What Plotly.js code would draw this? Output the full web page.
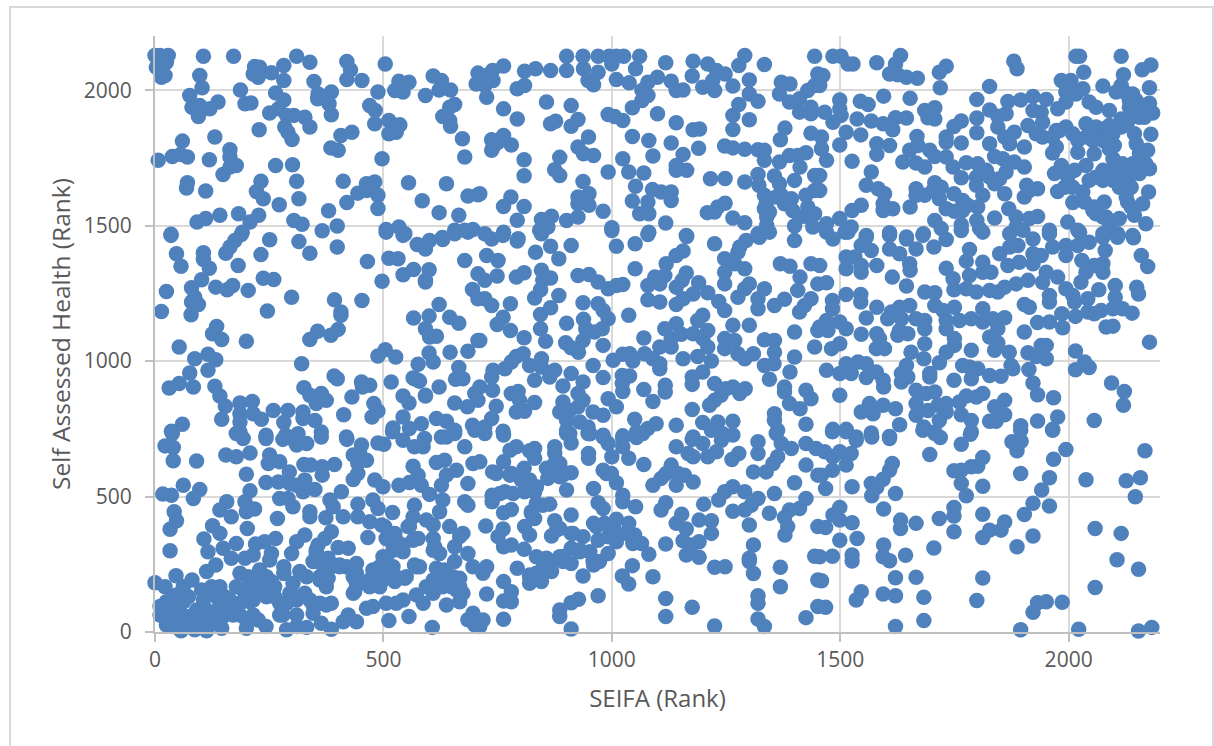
<!DOCTYPE html>
<html><head><meta charset="utf-8">
<script src="https://cdn.plot.ly/plotly-3.0.1.min.js"></script>
<style>
html,body{margin:0;padding:0;background:#fff;overflow:hidden;width:1214px;height:746px}
#frame{position:absolute;left:9px;top:6px;width:1205px;height:770px;border:2px solid #d9d9d9;box-sizing:border-box}
#chart{position:absolute;left:0;top:0;width:1214px;height:746px}
</style></head><body>
<div id="frame"></div><div id="chart"></div>
<script>
// [SEIFA rank, Self Assessed Health rank], read region by region from the picture
const upperLeft=[[0,2128],[11,2128],[29,2128],[3,2085],[18,2097],[25,2103],[14,2048],[22,2054],[106,2125],[172,2125],[98,2054],[103,2009],[76,1980],[81,1937],[98,1943],[95,1903],[120,1931],[138,1956],[187,2001],[197,1950],[210,1953],[218,2087],[229,2085],[215,2060],[226,2048],[255,2064],[282,2091],[282,2036],[310,2125],[339,2103],[264,1990],[282,1964],[270,1931],[251,1916],[288,1907],[304,1907],[328,1900],[339,1864],[284,1864],[291,1845],[300,1818],[228,1854],[348,2032],[386,1993],[357,1986],[356,1968],[381,1950],[386,1909],[420,2106],[428,2075],[420,2039],[453,2036],[504,2097],[488,1993],[407,1833],[431,1845],[385,1787],[401,1778],[131,1827],[60,1812],[38,1755],[7,1741],[56,1763],[71,1753],[119,1743],[164,1780],[164,1753],[178,1722],[164,1716],[149,1689],[264,1722],[301,1725],[232,1664],[310,1664],[222,1626],[237,1599],[315,1599],[272,1577],[71,1658],[69,1639],[111,1628],[412,1664],[463,1655],[481,1661],[444,1620],[463,1630],[488,1612],[420,1585],[488,1563],[380,1555],[399,1499],[366,1481],[304,1519],[322,1505],[142,1538],[111,1526],[92,1513],[183,1544],[227,1538],[208,1513],[191,1476],[35,1468],[497,1747],[555,1658],[638,1655],[585,1592],[622,1548],[665,1538],[685,1609],[707,1614],[506,1486],[534,1495],[547,1470],[656,1483],[678,1483],[696,1486],[629,1456],[534,2033],[556,2029],[525,1999],[543,1993],[539,2017],[592,1980],[609,2052],[627,2036],[622,2001],[647,2001],[656,1947],[645,1937],[630,1903],[645,1888],[647,1867],[673,1821],[678,1753],[470,1943],[482,1925],[481,1876],[512,1888],[536,1872],[521,1857],[512,1839],[528,1845],[707,2063],[703,2023]];
const upperMiddle=[[763,2089],[739,2073],[726,2054],[740,2036],[722,2017],[726,1974],[809,2070],[833,2079],[809,2017],[793,2005],[866,2073],[901,2125],[901,2073],[937,2125],[938,2079],[970,2066],[948,2036],[960,2020],[970,2125],[994,2125],[1010,2125],[1026,2125],[1000,2097],[1061,2125],[1052,2079],[1010,2039],[1038,2027],[1118,2101],[1100,2048],[1079,2029],[1130,2033],[1141,1999],[1156,2001],[1066,1999],[1079,1980],[1066,1962],[1045,1935],[1178,2107],[1176,2052],[1210,2097],[1229,2073],[1248,2060],[1199,2011],[1225,1999],[1221,2036],[1265,2015],[1291,2128],[1278,2091],[1301,2038],[1301,1986],[1320,1959],[1278,1947],[1265,1907],[1301,1891],[1265,1855],[1334,2095],[1371,2029],[1390,2023],[1367,1986],[1389,1956],[1411,1968],[1429,1999],[1444,2017],[1411,1919],[1436,1913],[1436,1937],[1444,2125],[1451,2060],[763,1931],[793,1894],[857,1956],[911,1943],[866,1876],[877,1885],[926,1892],[911,1867],[949,1827],[926,1790],[938,1765],[960,1759],[992,1910],[1006,1903],[1024,1888],[1100,1913],[1141,1880],[1178,1854],[1192,1857],[1045,1829],[1081,1814],[1130,1805],[1190,1786],[1156,1763],[1090,1757],[1024,1747],[1141,1722],[1141,1704],[1164,1704],[1037,1698],[1070,1694],[992,1698],[737,1817],[763,1833],[740,1790],[780,1798],[737,1778],[751,1808],[808,1743],[808,1684],[886,1752],[875,1706],[886,1685],[711,1618],[1247,1794],[1265,1787],[1291,1782],[1320,1780],[1334,1778],[1334,1741],[1367,1735],[1389,1759],[1407,1759],[1425,1769],[1412,1716],[1379,1860],[1369,1817],[1436,1841],[1216,1673],[1248,1674],[1291,1661],[1320,1689],[1322,1649],[1356,1683],[1400,1667],[1444,1685],[1334,1612],[1367,1655],[1371,1612],[1393,1599],[1425,1612],[1444,1630],[1334,1562],[1339,1532],[1339,1501],[1396,1556],[1429,1569],[1444,1544],[1400,1499],[1440,1495],[1052,1645],[1089,1633],[1108,1624],[1130,1624],[1130,1593],[1045,1591],[1079,1587],[1061,1544],[1081,1544],[1118,1510],[1000,1492],[1081,1476],[1163,1464],[937,1663],[950,1618],[926,1606],[926,1581],[950,1575],[981,1553],[926,1532],[901,1519],[868,1535],[846,1523],[860,1495],[842,1483],[779,1606],[763,1571],[808,1571],[793,1520],[763,1476],[722,1470],[795,1452],[1209,1548],[1225,1550],[1248,1583],[1232,1569],[1265,1528],[1291,1511],[1320,1470]];
const upperRight=[[1484,2125],[1502,2125],[1517,2097],[1528,2097],[1580,2101],[1632,2128],[1621,2097],[1608,2060],[1626,2057],[1645,2048],[1669,2044],[1732,2088],[1717,2066],[1719,2009],[1880,2107],[1887,2079],[1827,2014],[2016,2125],[2024,2125],[2115,2125],[2180,2093],[2161,2075],[2033,2066],[2120,2057],[1984,2036],[2005,2036],[1462,2054],[1455,2017],[1499,1964],[1499,1931],[1466,1919],[1484,1882],[1502,1907],[1544,1959],[1561,1947],[1595,1978],[1653,1970],[1537,1894],[1568,1886],[1594,1876],[1621,1898],[1645,1897],[1615,1854],[1513,1845],[1545,1835],[1459,1827],[1499,1798],[1459,1784],[1470,1741],[1685,1925],[1707,1935],[1692,1898],[1707,1894],[1799,1966],[1799,1897],[1799,1843],[1765,1886],[1749,1866],[1732,1827],[1732,1808],[1765,1805],[1668,1829],[1580,1802],[1608,1796],[1580,1763],[1827,1927],[1867,1958],[1895,1964],[1922,1977],[1951,1966],[1922,1925],[1940,1919],[1863,1913],[1845,1904],[1845,1864],[1943,1882],[1911,1870],[1881,1845],[1860,1827],[1871,1802],[1929,1839],[1903,1790],[1827,1802],[1976,1931],[1994,1956],[1994,1993],[2031,2005],[2016,1986],[2075,2015],[2045,1956],[2060,1937],[2089,1925],[2115,2017],[2104,1993],[2140,1986],[2148,1962],[2133,1937],[2177,2009],[2177,1952],[2184,1916],[2166,1900],[2137,1913],[2115,1894],[2089,1870],[2075,1857],[2038,1876],[2144,1839],[2180,1837],[2097,1839],[2060,1839],[1994,1864],[1973,1851],[1943,1827],[2020,1814],[2053,1814],[2075,1814],[2100,1796],[2089,1796],[2148,1802],[2173,1778],[1973,1790],[1965,1768],[2020,1771],[2056,1765],[1637,1735],[1652,1778],[1670,1796],[1696,1778],[1707,1755],[1666,1731],[1685,1716],[1732,1753],[1747,1716],[1776,1732],[1801,1728],[1765,1677],[1798,1679],[1820,1704],[1838,1755],[1856,1747],[1881,1735],[1903,1716],[1863,1698],[1849,1673],[1827,1679],[1798,1649],[1838,1655],[1860,1618],[1812,1612],[1526,1738],[1568,1698],[1455,1685],[1455,1630],[1557,1649],[1583,1636],[1597,1618],[1594,1581],[1594,1556],[1615,1562],[1653,1569],[1546,1575],[1526,1556],[1707,1658],[1721,1642],[1666,1636],[1685,1612],[1703,1630],[1666,1612],[1749,1618],[1717,1599],[1768,1593],[1732,1562],[1750,1553],[1768,1556],[1779,1575],[1801,1569],[1838,1528],[1869,1562],[1908,1649],[1932,1636],[1903,1606],[1914,1630],[1984,1722],[1969,1692],[2038,1722],[2013,1704],[1998,1679],[2009,1642],[1976,1626],[1991,1642],[2031,1624],[2045,1667],[2009,1585],[2035,1587],[2078,1587],[2056,1569],[2060,1544],[2082,1532],[2111,1526],[2144,1538],[2129,1587],[2162,1581],[2175,1624],[2137,1642],[2111,1642],[2100,1716],[2082,1692],[2115,1679],[2177,1710],[2159,1735],[2140,1692],[2075,1667],[2097,1747],[1707,1519],[1721,1489],[1765,1503],[1799,1519],[1805,1489],[1885,1532],[1914,1526],[1932,1534],[1885,1495],[1900,1483],[1958,1483],[1998,1513],[2020,1483],[2089,1495],[2107,1470],[2169,1507],[2140,1464],[2075,1470],[1470,1507],[1499,1526],[1524,1495],[1510,1476],[1557,1464],[1608,1474],[1645,1458],[1682,1470],[1470,1476]];
const centreLeft=[[35,1464],[47,1396],[57,1350],[106,1400],[106,1375],[119,1343],[102,1300],[80,1271],[25,1257],[87,1236],[80,1218],[95,1209],[14,1183],[79,1171],[133,1273],[158,1263],[170,1279],[204,1261],[237,1306],[260,1301],[182,1353],[232,1393],[251,1448],[155,1398],[164,1421],[175,1445],[189,1467],[315,1441],[339,1398],[399,1421],[299,1236],[246,1185],[393,1226],[407,1181],[407,1169],[453,1224],[465,1368],[497,1295],[512,1380],[532,1378],[543,1319],[566,1338],[600,1337],[592,1298],[592,1292],[574,1430],[592,1414],[601,1445],[630,1449],[506,1476],[543,1464],[678,1371],[656,1470],[685,1476],[707,1322],[695,1264],[707,1230],[622,1209],[566,1159],[600,1166],[645,1162],[665,1140],[592,1119],[601,1089],[616,1092],[707,1076],[646,1033],[685,1036],[600,1030],[609,997],[576,988],[665,976],[658,933],[568,935],[576,929],[622,904],[592,874],[656,845],[684,831],[674,935],[700,880],[707,855],[135,1128],[126,1101],[146,1080],[200,1073],[53,1052],[116,1025],[87,1009],[133,1005],[76,956],[116,966],[53,917],[31,901],[84,904],[131,907],[142,871],[154,833],[186,845],[213,851],[259,818],[146,785],[186,806],[186,775],[215,806],[233,785],[291,818],[282,773],[60,767],[36,741],[339,1080],[356,1110],[385,1095],[401,1117],[321,990],[488,1019],[504,1042],[527,1015],[392,945],[399,935],[452,923],[470,911],[454,904],[431,867],[413,802],[479,843],[488,816],[475,794],[517,923],[565,938],[579,926],[543,871],[556,845],[592,871],[326,902],[339,874],[364,880],[375,855],[353,843],[324,812],[350,781],[324,788],[364,738],[243,726],[186,738],[286,726],[313,732],[419,720],[543,794],[521,753],[557,751],[583,769],[616,788],[638,778],[656,745],[695,763],[627,720],[700,745]];
const centreMiddle=[[737,1451],[762,1464],[793,1443],[846,1470],[866,1424],[911,1427],[833,1402],[884,1378],[726,1390],[751,1371],[808,1326],[791,1310],[749,1314],[722,1298],[846,1335],[866,1307],[849,1298],[844,1263],[831,1233],[884,1242],[722,1230],[737,1205],[778,1212],[762,1162],[749,1135],[778,1113],[808,1086],[866,1197],[844,1172],[844,1119],[855,1073],[711,1076],[926,1316],[950,1320],[970,1292],[992,1267],[1024,1283],[1010,1279],[937,1215],[970,1212],[981,1187],[992,1156],[901,1140],[938,1154],[943,1119],[979,1119],[962,1107],[937,1076],[899,1068],[911,1049],[927,1033],[981,1058],[1010,1424],[1000,1482],[1051,1433],[1079,1467],[1164,1460],[1225,1433],[1051,1341],[1119,1359],[1141,1390],[1156,1406],[1163,1325],[1094,1310],[1116,1316],[1079,1279],[1105,1285],[1141,1273],[1154,1298],[1190,1289],[1210,1252],[1178,1248],[1156,1230],[1141,1209],[1079,1226],[1105,1218],[1037,1169],[1234,1220],[1247,1187],[1265,1132],[1301,1132],[1141,1138],[1116,1119],[1199,1169],[1188,1150],[1210,1113],[1178,1101],[1152,1099],[1130,1083],[1070,1085],[1105,1052],[1130,1052],[1199,1083],[1210,1052],[1188,1017],[1218,1000],[1156,1009],[1247,1378],[1269,1359],[1291,1341],[1247,1328],[1247,1285],[1301,1285],[1291,1267],[1276,1236],[1247,1083],[1269,1076],[1247,1046],[1276,1027],[1291,1009],[1310,1027],[1280,1421],[1294,1445],[1323,1457],[1345,1476],[1400,1445],[1276,1402],[1369,1359],[1390,1350],[1412,1310],[1436,1359],[1451,1285],[1334,1267],[1320,1230],[1320,1193],[1356,1205],[1378,1228],[1407,1261],[1436,1230],[1411,1181],[1422,1205],[1400,1107],[1334,1079],[1356,1076],[1356,1033],[1334,984],[1355,990],[1400,1015],[1444,1052],[1451,1113],[1345,933],[1390,960],[1378,904],[1378,886],[1425,892],[1436,861],[1389,843],[1412,824],[1003,1003],[1024,1025],[1039,1027],[1046,1000],[1072,1027],[1090,1009],[1105,972],[1105,990],[1023,947],[1039,945],[1024,888],[1023,917],[1070,895],[1090,851],[1117,911],[1117,886],[1176,941],[1176,914],[1199,960],[1225,917],[1265,904],[1292,898],[1280,880],[1250,898],[1239,874],[1225,855],[1214,837],[1176,821],[1356,806],[1356,781],[1425,767],[1363,745],[1050,785],[1097,769],[1141,763],[1079,751],[1199,773],[1232,775],[1265,778],[1024,724],[1054,738],[1178,720],[1218,745],[1243,732],[806,1027],[791,1017],[766,972],[740,966],[737,941],[780,997],[820,984],[846,1009],[846,978],[831,929],[875,966],[864,941],[711,904],[739,892],[780,880],[795,888],[798,855],[747,833],[831,847],[791,812],[809,815],[737,788],[722,757],[762,741],[911,954],[893,908],[937,923],[959,984],[981,939],[926,880],[937,855],[893,849],[886,812],[908,818],[926,831],[992,861],[1010,831],[959,812],[981,800],[901,781],[930,775],[948,757],[901,745],[981,726],[908,732],[952,732]];
const centreRight=[[1484,1451],[1517,1476],[1557,1457],[1546,1427],[1568,1408],[1608,1464],[1645,1451],[1681,1464],[1666,1414],[1608,1414],[1630,1396],[1705,1421],[1732,1449],[1783,1412],[1776,1369],[1812,1365],[1765,1482],[1812,1476],[1871,1470],[1922,1451],[1958,1470],[2024,1476],[1513,1384],[1532,1384],[1513,1341],[1546,1353],[1546,1328],[1580,1353],[1652,1359],[1653,1335],[1614,1310],[1470,1289],[1455,1353],[1645,1277],[1732,1343],[1747,1304],[1749,1263],[1776,1267],[1798,1255],[1827,1261],[1845,1255],[1860,1273],[1885,1285],[1911,1298],[1943,1291],[1976,1310],[1951,1328],[1783,1316],[1812,1328],[1830,1328],[1867,1353],[1892,1365],[1849,1396],[1871,1421],[1889,1427],[1922,1359],[1922,1396],[1940,1390],[1965,1421],[1994,1390],[1994,1427],[2020,1427],[2045,1439],[2075,1457],[2107,1457],[2142,1455],[2159,1390],[2173,1349],[2080,1408],[2029,1371],[2075,1359],[2056,1353],[2038,1328],[2075,1328],[2027,1291],[2102,1279],[2066,1263],[2149,1273],[2153,1248],[1958,1242],[1958,1218],[1994,1267],[2009,1242],[2013,1218],[2042,1230],[2102,1236],[1513,1246],[1545,1246],[1545,1218],[1483,1224],[1483,1193],[1580,1199],[1557,1159],[1685,1255],[1707,1252],[1707,1205],[1652,1205],[1630,1199],[1612,1181],[1604,1156],[1634,1156],[1666,1156],[1685,1150],[1685,1119],[1725,1187],[1750,1199],[1732,1150],[1732,1119],[1761,1150],[1787,1156],[1812,1193],[1812,1144],[1834,1156],[1860,1160],[1845,1119],[1827,1089],[1845,1067],[1838,1040],[1870,1033],[1903,1107],[1903,1209],[1914,1199],[1932,1142],[1958,1144],[1987,1123],[1985,1175],[2015,1165],[2042,1181],[2056,1175],[2071,1187],[2097,1193],[2118,1193],[2139,1177],[2082,1126],[2097,1129],[2177,1070],[1455,1126],[1470,1150],[1499,1144],[1513,1119],[1473,1113],[1546,1099],[1580,1101],[1586,1083],[1499,1064],[1481,1046],[1579,1046],[1597,1046],[1626,1095],[1648,1101],[1630,1113],[1685,1064],[1655,1033],[1683,1009],[1750,1083],[1750,1058],[1732,1033],[1717,994],[1787,1040],[1911,1031],[1929,1017],[1951,1058],[1951,1009],[1940,1058],[2015,1037],[2035,997],[2015,968],[2045,976],[2094,919],[2122,888],[2120,837],[2056,781],[1470,966],[1499,954],[1513,990],[1524,954],[1539,997],[1557,990],[1557,939],[1579,960],[1594,929],[1595,904],[1499,874],[1645,984],[1634,954],[1634,923],[1648,941],[1696,954],[1696,941],[1749,929],[1768,984],[1783,978],[1801,972],[1787,935],[1827,947],[1852,944],[1878,972],[1874,984],[1913,969],[1922,919],[1932,876],[1967,865],[1666,892],[1688,880],[1707,886],[1666,843],[1666,800],[1692,818],[1714,837],[1732,843],[1732,812],[1717,781],[1683,757],[1707,738],[1812,880],[1776,871],[1761,849],[1798,867],[1838,831],[1860,855],[1860,802],[1765,802],[1787,781],[1827,778],[1841,778],[1895,761],[1932,779],[1976,794],[1965,748],[1787,738],[1564,843],[1546,812],[1572,806],[1594,837],[1621,824],[1630,765],[1484,748],[1513,748],[1568,735],[1608,722],[1535,720]];
const lowerLeft=[[38,733],[22,687],[40,681],[40,632],[91,631],[155,653],[178,647],[208,661],[178,733],[193,714],[243,714],[280,711],[299,714],[310,690],[332,696],[364,720],[420,711],[452,690],[434,653],[448,659],[463,634],[444,622],[488,698],[501,693],[520,739],[543,708],[568,684],[590,714],[587,684],[638,720],[656,733],[678,684],[251,653],[248,622],[273,628],[326,618],[341,616],[366,610],[393,618],[294,591],[200,582],[366,579],[243,552],[270,554],[295,548],[328,561],[350,526],[434,563],[444,585],[481,561],[499,536],[534,542],[565,612],[576,579],[557,552],[583,542],[616,626],[634,634],[660,597],[638,579],[627,542],[685,548],[696,622],[62,542],[98,526],[17,509],[36,505],[84,493],[208,521],[310,542],[324,518],[273,493],[302,462],[291,493],[197,481],[157,481],[218,454],[142,450],[167,425],[200,444],[408,518],[383,487],[390,462],[444,472],[477,487],[488,456],[520,441],[601,508],[568,468],[630,487],[623,444],[678,481],[685,468],[42,444],[47,411],[33,379],[33,300],[126,392],[142,364],[202,382],[107,343],[116,296],[268,419],[339,444],[339,425],[374,422],[412,425],[444,425],[470,407],[496,395],[525,364],[386,370],[372,345],[328,358],[310,333],[466,349],[506,345],[565,425],[594,413],[609,395],[554,389],[576,345],[609,345],[645,389],[674,364],[656,315],[685,290],[623,290],[612,315],[543,321],[517,352],[178,327],[149,309],[220,325],[240,333],[264,345],[255,290],[299,290],[353,303],[401,312],[423,309],[499,278],[543,296],[113,223],[133,247],[167,272],[197,272],[215,284],[251,266],[282,241],[282,216],[317,223],[353,290],[346,260],[379,272],[404,247],[441,253],[419,241],[477,229],[521,241],[499,229],[568,247],[579,241],[656,260],[616,235],[634,229],[696,241],[0,182],[22,167],[46,208],[81,192],[62,167],[47,137],[25,112],[11,63],[25,81],[40,57],[54,94],[25,26],[40,20],[57,5],[62,44],[73,130],[102,155],[142,167],[178,167],[186,217],[204,204],[106,118],[135,130],[91,81],[102,44],[87,8],[113,5],[146,14],[127,69],[142,106],[167,94],[186,106],[193,155],[218,167],[244,204],[229,229],[262,167],[215,118],[244,130],[273,106],[273,63],[200,14],[215,63],[243,20],[200,44],[226,44],[135,38],[302,180],[332,204],[361,192],[317,130],[295,143],[339,118],[386,106],[361,106],[288,8],[332,17],[310,20],[386,10],[364,32],[310,63],[346,69],[412,38],[441,38],[423,63],[463,88],[477,94],[512,42],[556,57],[607,17],[506,106],[543,118],[528,106],[572,137],[587,106],[609,143],[638,100],[667,112],[660,155],[634,204],[667,198],[649,167],[547,198],[525,186],[492,167],[437,149],[441,180],[470,192],[434,204],[375,167],[696,69],[685,45],[700,26]];
const lowerMiddle=[[722,733],[763,727],[791,684],[777,671],[831,677],[820,669],[831,641],[711,628],[763,628],[875,684],[875,659],[911,698],[901,733],[948,733],[981,720],[992,696],[1024,714],[1024,684],[1054,718],[1068,733],[949,659],[949,641],[1000,647],[1037,641],[1070,618],[1141,684],[1176,711],[1167,659],[1199,696],[1178,647],[1210,647],[1229,665],[1240,708],[1265,727],[1320,702],[1320,659],[1278,659],[1263,637],[1360,733],[1371,696],[1393,677],[1363,647],[1353,622],[1338,591],[1310,591],[1425,696],[1447,677],[1425,616],[1451,579],[1400,551],[739,591],[780,585],[808,604],[875,622],[886,622],[857,604],[860,567],[886,573],[911,588],[802,561],[820,561],[835,536],[766,518],[784,511],[809,518],[901,524],[960,530],[981,597],[999,585],[1010,551],[988,585],[1024,505],[1024,481],[738,505],[738,481],[780,452],[763,440],[864,472],[849,468],[824,444],[831,419],[809,389],[820,358],[762,380],[751,352],[763,315],[780,321],[724,391],[875,411],[886,382],[868,354],[911,432],[911,364],[937,352],[970,477],[981,456],[960,401],[984,401],[1010,416],[1037,401],[1052,462],[1006,376],[1010,333],[970,339],[1050,358],[1046,327],[1065,327],[1081,287],[808,305],[835,278],[857,272],[886,278],[893,260],[911,253],[911,309],[930,303],[952,296],[992,290],[973,260],[960,247],[793,235],[820,210],[820,180],[846,186],[868,223],[849,235],[726,241],[718,217],[763,186],[780,149],[726,140],[763,114],[780,112],[763,47],[718,44],[711,20],[886,81],[886,57],[911,108],[927,121],[970,134],[911,11],[937,207],[1045,245],[1023,207],[1037,177],[1090,204],[1118,124],[1118,57],[1176,91],[1225,22],[1118,325],[1090,542],[1108,567],[1130,616],[1119,585],[1141,542],[1159,579],[1178,554],[1145,585],[1118,477],[1108,450],[1201,472],[1153,435],[1141,401],[1191,413],[1218,411],[1163,380],[1218,364],[1156,337],[1191,333],[1174,321],[1163,284],[1191,276],[1225,239],[1248,241],[1234,487],[1247,518],[1265,536],[1291,518],[1320,493],[1305,468],[1291,450],[1265,446],[1356,511],[1345,438],[1301,395],[1310,321],[1301,272],[1301,260],[1310,216],[1369,239],[1369,167],[1320,134],[1320,106],[1320,48],[1334,20],[1425,53],[1425,493],[1411,456],[1389,450],[1378,423],[1385,389],[1379,358],[1444,280],[1451,192],[1451,94],[1451,389]];
const lowerRight=[[1483,739],[1513,739],[1535,708],[1569,720],[1608,714],[1681,745],[1707,733],[1719,718],[1765,693],[1785,730],[1895,745],[1876,702],[1896,704],[1887,669],[1965,745],[1994,674],[1967,638],[2167,669],[1466,665],[1499,665],[1524,659],[1484,647],[1513,616],[1483,597],[1459,579],[1468,530],[1526,536],[1568,548],[1594,564],[1608,597],[1614,622],[1696,655],[1580,534],[1569,503],[1621,511],[1749,595],[1765,597],[1787,610],[1801,612],[1812,644],[1765,548],[1812,538],[1776,503],[1895,585],[1958,569],[1941,524],[1922,475],[1903,434],[1958,465],[2038,562],[2126,558],[2157,569],[2146,499],[1499,460],[1484,432],[1499,413],[1468,386],[1526,403],[1499,339],[1537,345],[1595,454],[1632,413],[1632,382],[1666,401],[1717,419],[1749,460],[1749,428],[1749,370],[1812,435],[1860,406],[1827,376],[1812,349],[1852,376],[1922,354],[1887,315],[2058,382],[2115,364],[1455,278],[1483,280],[1526,284],[1526,262],[1595,321],[1594,278],[1608,263],[1643,283],[1705,310],[1459,189],[1621,200],[1666,202],[1812,199],[2106,267],[2153,232],[2058,164],[1546,149],[1535,118],[1594,140],[1621,134],[1683,128],[1468,91],[1799,116],[1932,108],[1951,112],[1922,73],[1986,110],[1621,20],[1683,42],[1895,8],[2022,10],[2153,4],[2182,17]];
// points inside the solid clusters, where single dots cannot be told apart
const lowerLeftCluster=[[11,94],[33,106],[47,81],[62,112],[76,57],[22,51],[51,38],[69,20],[36,124],[113,143],[124,167],[153,130],[113,81],[127,32],[98,26],[149,57],[171,63],[186,63],[164,118],[208,112],[222,143],[237,155],[233,192],[255,186],[262,130],[288,106],[310,118],[280,63],[328,143],[346,100],[375,100],[361,204],[379,198],[386,241],[364,253],[357,321],[404,241],[441,217],[448,180],[434,143],[470,167],[499,192],[492,241],[517,241],[506,272],[528,204],[550,204],[572,241],[514,339],[528,339],[521,302],[565,339],[557,389],[503,389],[609,302],[667,352],[609,192],[609,155],[652,204],[667,167],[674,143],[594,167],[630,167]];
const lowerMiddleCluster=[[747,585],[777,579],[806,561],[831,518],[813,536],[755,511],[740,493],[835,475],[824,438],[871,585],[886,610],[893,579],[966,389],[1003,376],[992,352],[1032,364],[930,296],[879,376],[915,364],[857,253],[835,217],[864,241],[820,204],[893,278],[959,260]];
const upperRightCluster=[[2075,1704],[2097,1704],[2118,1728],[2140,1728],[2155,1692],[2169,1728],[2060,1679],[2097,1667],[2115,1642],[2126,1606],[2137,1569],[2089,1827],[2089,1784],[2115,1864],[2129,1882],[2155,1900],[2060,1864],[2053,1827],[2155,1765],[2162,1728],[1965,1827],[1980,1851],[2009,1839],[2038,1827],[2133,1962],[2155,1931],[2122,1993],[2053,1556],[2075,1532],[1338,1581],[1345,1550],[1360,1606],[1378,1581],[1411,1532],[1429,1532]];
const allPoints=[...upperLeft,...upperMiddle,...upperRight,...centreLeft,...centreMiddle,...centreRight,...lowerLeft,...lowerMiddle,...lowerRight,...lowerLeftCluster,...lowerMiddleCluster,...upperRightCluster];
const seifaRank=allPoints.map(p=>p[0]);
const healthRank=allPoints.map(p=>p[1]);
const xTickValues=[0,500,1000,1500,2000];
const yTickValues=[0,500,1000,1500,2000];
const inkGrey='#595959', fontStack='"Open Sans", sans-serif';
const axisBase={showgrid:true,gridcolor:'#d9d9d9',gridwidth:2,zeroline:false,showline:true,linecolor:'#bfbfbf',linewidth:2,ticks:'outside',ticklen:8,tickwidth:2,tickcolor:'#bfbfbf',tickfont:{family:fontStack,size:21,color:inkGrey},tickmode:'array'};
Plotly.newPlot('chart',[{type:'scatter',mode:'markers',x:seifaRank,y:healthRank,cliponaxis:false,marker:{size:15.5,color:'#4f81bd',line:{width:0}},hoverinfo:'x+y'}],{
 width:1214,height:746,showlegend:false,paper_bgcolor:'rgba(0,0,0,0)',plot_bgcolor:'rgba(0,0,0,0)',
 margin:{l:155,r:54,t:36,b:114,pad:0},
 xaxis:Object.assign({},axisBase,{range:[0,2200],tickvals:xTickValues,ticktext:xTickValues.map(String),automargin:false,title:{text:'SEIFA (Rank)',standoff:18,font:{family:fontStack,size:24,color:inkGrey}}}),
 yaxis:Object.assign({},axisBase,{range:[0,2200],tickvals:yTickValues,ticktext:yTickValues.map(String),automargin:false,ticklabelstandoff:9,title:{text:'Self Assessed Health (Rank)',standoff:6,font:{family:fontStack,size:24.5,color:inkGrey}}})
},{displayModeBar:false,responsive:false});
</script></body></html>
